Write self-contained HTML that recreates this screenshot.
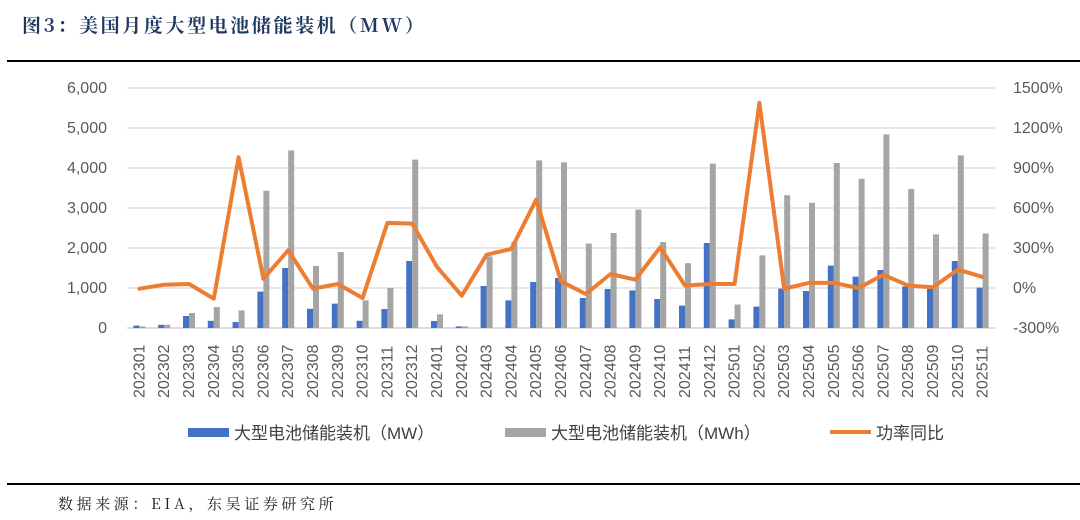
<!DOCTYPE html>
<html><head><meta charset="utf-8"><style>
body{margin:0;background:#fff;width:1080px;height:515px;overflow:hidden;font-family:"Liberation Sans","Noto Sans CJK SC",sans-serif}
</style></head><body>
<svg id="chart" width="1080" height="515" xmlns="http://www.w3.org/2000/svg">
<text x="22" y="32" font-family="'Noto Serif CJK SC',serif" font-weight="bold" font-size="19" letter-spacing="2.6" fill="#1f3864">图3：美国月度大型电池储能装机（MW）</text>
<line x1="7" y1="61" x2="1080" y2="61" stroke="#000" stroke-width="2"/>
<g id="grid"></g><g id="bars"></g><g id="line"></g><g id="axes"></g>
<g font-size="17" fill="#404040">
<rect x="188" y="428" width="41" height="9" fill="#4472c4"/>
<text x="234" y="439">大型电池储能装机（MW）</text>
<rect x="505" y="428" width="41" height="9" fill="#a5a5a5"/>
<text x="551" y="439">大型电池储能装机（MWh）</text>
<line x1="830" y1="432" x2="871" y2="432" stroke="#ed7d31" stroke-width="4"/>
<text x="876" y="439">功率同比</text>
</g>
<line x1="7" y1="484" x2="1080" y2="484" stroke="#000" stroke-width="2"/>
<text x="58" y="509" font-family="'Noto Serif CJK SC',serif" font-size="15" letter-spacing="3.6" fill="#222">数据来源：EIA，东吴证券研究所</text>
</svg>
<script>
const categories=["202301","202302","202303","202304","202305","202306","202307","202308","202309","202310","202311","202312","202401","202402","202403","202404","202405","202406","202407","202408","202409","202410","202411","202412","202501","202502","202503","202504","202505","202506","202507","202508","202509","202510","202511"];
const mwValues=[60,80,300,180,150,910,1500,480,610,180,475,1675,175,40,1050,690,1150,1250,750,975,940,725,560,2125,215,535,985,925,1560,1285,1450,1040,975,1675,1010];
const mwhValues=[40,80,375,525,440,3430,4440,1550,1900,690,1000,4210,340,40,1790,2150,4190,4140,2110,2375,2960,2150,1620,4110,585,1815,3320,3130,4125,3730,4840,3475,2340,4315,2365];
const yoyValues=[-5,25,30,-80,980,70,283,-5,30,-75,488,483,158,-58,250,293,663,50,-45,105,62,305,18,30,30,1388,-5,38,38,0,100,18,5,138,83];
const leftTicks=[0,1000,2000,3000,4000,5000,6000];
const rightTicks=[-300,0,300,600,900,1200,1500];
const L=127,R=995,T=88,B=328;
const step=(R-L)/categories.length;
const xc=i=>L+step*(i+0.5);
const yL=v=>B-(v/6000)*(B-T);
const yR=v=>B-((v+300)/1800)*(B-T);
const NS="http://www.w3.org/2000/svg";
function mk(tag,attrs,parent,text){const e=document.createElementNS(NS,tag);for(const k in attrs)e.setAttribute(k,attrs[k]);if(text!==undefined)e.textContent=text;parent.appendChild(e);return e;}
const grid=document.getElementById('grid'),axes=document.getElementById('axes'),bars=document.getElementById('bars'),lineG=document.getElementById('line');
leftTicks.forEach((t,i)=>{
  const g=mk('line',{x1:L,x2:R,y1:yL(t),y2:yL(t),stroke:i===0?'#d0d0d0':'#e0e0e0','stroke-width':1.5},grid);
  
  
  const tx=mk('text',{x:107,y:yL(t)+5,'text-anchor':'end','font-size':16,fill:'#595959'},axes,t.toLocaleString('en-US'));
  
  
});
rightTicks.forEach(t=>{
  const tx=mk('text',{x:1013,y:yR(t)+5,'font-size':16,fill:'#595959'},axes,t+'%');
  
  
});
categories.forEach((c,i)=>{
  const x=xc(i);
  const b1=mk('rect',{x:x-6,y:yL(mwValues[i]),width:6,height:B-yL(mwValues[i]),fill:'#4472c4'},bars);
  
  
  const b2=mk('rect',{x:x,y:yL(mwhValues[i]),width:6,height:B-yL(mwhValues[i]),fill:'#a5a5a5'},bars);
  
  
  const tx=mk('text',{x:0,y:0,transform:`translate(${x+5},398) rotate(-90)`,'font-size':16,fill:'#595959'},axes,c);
  
  
});
const pts=yoyValues.map((v,i)=>xc(i).toFixed(1)+','+yR(v).toFixed(1)).join(' ');
const pl=mk('polyline',{points:pts,fill:'none',stroke:'#ed7d31','stroke-width':4,'stroke-linejoin':'round','stroke-linecap':'round'},lineG);


</script>
</body></html>
